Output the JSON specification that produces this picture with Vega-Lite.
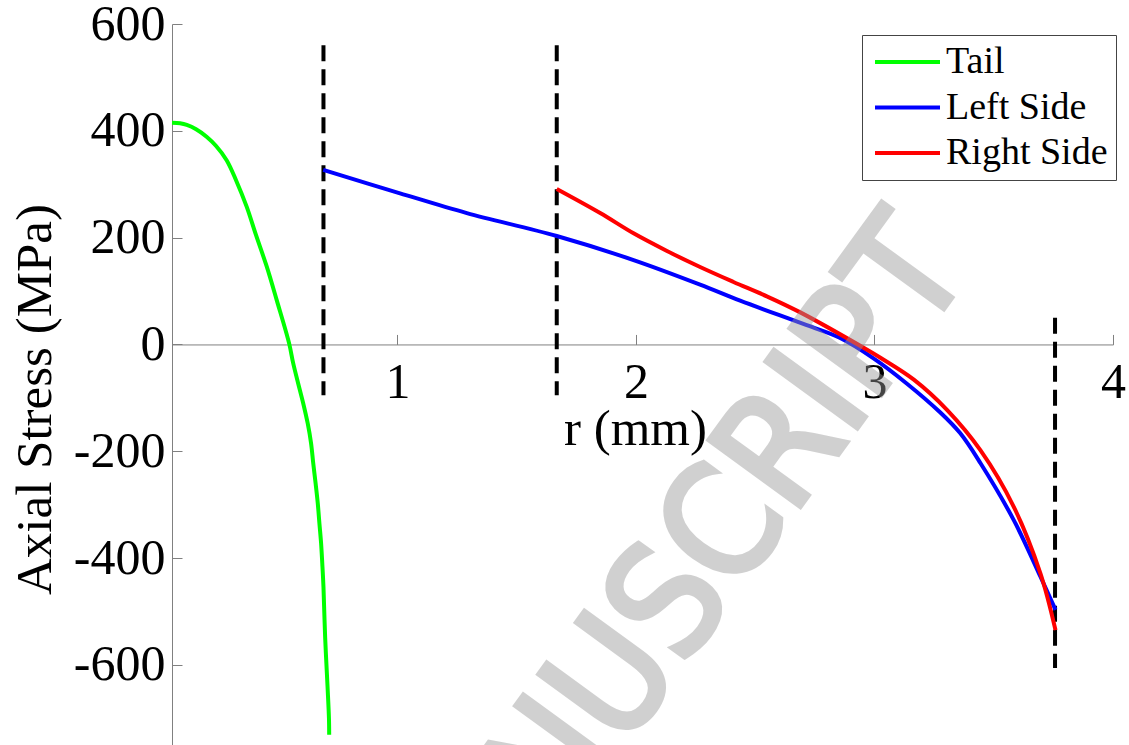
{
  "$schema": "https://vega.github.io/schema/vega-lite/v6.json",
  "width": 941,
  "height": 721,
  "autosize": {"type": "none"},
  "padding": {"left": 172, "top": 24, "right": 16, "bottom": 0},
  "background": "white",
  "config": {"view": {"stroke": null}, "font": "Liberation Serif"},
  "datasets": {
    "curves": [
      {"r": 0.055, "stress": 415, "series": "Tail"},
      {"r": 0.089, "stress": 414, "series": "Tail"},
      {"r": 0.117, "stress": 411, "series": "Tail"},
      {"r": 0.156, "stress": 403, "series": "Tail"},
      {"r": 0.2, "stress": 389, "series": "Tail"},
      {"r": 0.239, "stress": 372, "series": "Tail"},
      {"r": 0.284, "stress": 345, "series": "Tail"},
      {"r": 0.323, "stress": 308, "series": "Tail"},
      {"r": 0.368, "stress": 258, "series": "Tail"},
      {"r": 0.407, "stress": 205, "series": "Tail"},
      {"r": 0.452, "stress": 146, "series": "Tail"},
      {"r": 0.494, "stress": 83, "series": "Tail"},
      {"r": 0.546, "stress": 2, "series": "Tail"},
      {"r": 0.563, "stress": -35, "series": "Tail"},
      {"r": 0.584, "stress": -73, "series": "Tail"},
      {"r": 0.605, "stress": -110, "series": "Tail"},
      {"r": 0.624, "stress": -148, "series": "Tail"},
      {"r": 0.638, "stress": -185, "series": "Tail"},
      {"r": 0.647, "stress": -222, "series": "Tail"},
      {"r": 0.657, "stress": -260, "series": "Tail"},
      {"r": 0.666, "stress": -297, "series": "Tail"},
      {"r": 0.673, "stress": -335, "series": "Tail"},
      {"r": 0.68, "stress": -372, "series": "Tail"},
      {"r": 0.685, "stress": -410, "series": "Tail"},
      {"r": 0.69, "stress": -454, "series": "Tail"},
      {"r": 0.697, "stress": -548, "series": "Tail"},
      {"r": 0.707, "stress": -640, "series": "Tail"},
      {"r": 0.713, "stress": -700, "series": "Tail"},
      {"r": 0.714, "stress": -731, "series": "Tail"},
      {"r": 0.689, "stress": 327, "series": "Left Side"},
      {"r": 1.011, "stress": 283, "series": "Left Side"},
      {"r": 1.291, "stress": 246, "series": "Left Side"},
      {"r": 1.668, "stress": 203, "series": "Left Side"},
      {"r": 1.99, "stress": 158, "series": "Left Side"},
      {"r": 2.269, "stress": 112, "series": "Left Side"},
      {"r": 2.437, "stress": 82, "series": "Left Side"},
      {"r": 2.716, "stress": 36, "series": "Left Side"},
      {"r": 2.856, "stress": 12, "series": "Left Side"},
      {"r": 2.996, "stress": -26, "series": "Left Side"},
      {"r": 3.135, "stress": -73, "series": "Left Side"},
      {"r": 3.275, "stress": -127, "series": "Left Side"},
      {"r": 3.359, "stress": -166, "series": "Left Side"},
      {"r": 3.444, "stress": -222, "series": "Left Side"},
      {"r": 3.584, "stress": -329, "series": "Left Side"},
      {"r": 3.696, "stress": -435, "series": "Left Side"},
      {"r": 3.759, "stress": -497, "series": "Left Side"},
      {"r": 1.668, "stress": 291, "series": "Right Side"},
      {"r": 1.85, "stress": 246, "series": "Right Side"},
      {"r": 1.99, "stress": 208, "series": "Right Side"},
      {"r": 2.13, "stress": 175, "series": "Right Side"},
      {"r": 2.269, "stress": 145, "series": "Right Side"},
      {"r": 2.409, "stress": 117, "series": "Right Side"},
      {"r": 2.549, "stress": 90, "series": "Right Side"},
      {"r": 2.689, "stress": 60, "series": "Right Side"},
      {"r": 2.969, "stress": -10, "series": "Right Side"},
      {"r": 3.025, "stress": -25, "series": "Right Side"},
      {"r": 3.165, "stress": -66, "series": "Right Side"},
      {"r": 3.305, "stress": -123, "series": "Right Side"},
      {"r": 3.444, "stress": -198, "series": "Right Side"},
      {"r": 3.584, "stress": -304, "series": "Right Side"},
      {"r": 3.696, "stress": -429, "series": "Right Side"},
      {"r": 3.759, "stress": -535, "series": "Right Side"}
    ],
    "dashes": [
      {"r": 0.69, "top": 560, "bottom": -95},
      {"r": 1.668, "top": 560, "bottom": -95},
      {"r": 3.757, "top": 50, "bottom": -606}
    ],
    "watermark": [
      {"r": 2.125, "stress": -500, "label": "MANUSCRIPT"}
    ]
  },
  "layer": [
    {
      "data": {"name": "dashes"},
      "mark": {"type": "rule", "color": "black", "strokeWidth": 4, "strokeDash": [16, 8]},
      "encoding": {
        "x": {"field": "r", "type": "quantitative"},
        "y": {"field": "top", "type": "quantitative"},
        "y2": {"field": "bottom"}
      }
    },
    {
      "data": {"name": "curves"},
      "mark": {"type": "line", "strokeWidth": 4, "interpolate": "catmull-rom"},
      "encoding": {
        "x": {
          "field": "r",
          "type": "quantitative",
          "scale": {"domain": [0.055, 4], "nice": false, "zero": false},
          "axis": {
            "title": "r (mm)",
            "values": [1, 2, 3, 4],
            "labelExpr": "toString(datum.value)",
            "offset": -400.56,
            "grid": false,
            "tickSize": -10,
            "tickColor": "#808080",
            "domainColor": "#808080",
            "labelPadding": 23,
            "labelFont": "Liberation Serif",
            "labelFontSize": 50,
            "labelColor": "black",
            "labelFlush": false,
            "titleFont": "Liberation Serif",
            "titleFontSize": 51,
            "titleFontWeight": "normal",
            "titleColor": "black",
            "titleX": 463,
            "titleY": 100.5,
            "titleAlign": "center",
            "titleBaseline": "alphabetic"
          }
        },
        "y": {
          "field": "stress",
          "type": "quantitative",
          "scale": {"domain": [-750, 600], "nice": false, "zero": false},
          "axis": {
            "title": "Axial Stress (MPa)",
            "values": [-600, -400, -200, 0, 200, 400, 600],
            "labelExpr": "toString(datum.value)",
            "grid": false,
            "tickSize": -10,
            "tickColor": "#808080",
            "domainColor": "#808080",
            "labelPadding": 17,
            "labelFont": "Liberation Serif",
            "labelFontSize": 50,
            "labelColor": "black",
            "labelFlush": false,
            "titleFont": "Liberation Serif",
            "titleFontSize": 51,
            "titleFontWeight": "normal",
            "titleColor": "black",
            "titleAngle": -90,
            "titleX": -122,
            "titleY": 375,
            "titleAlign": "center",
            "titleBaseline": "alphabetic"
          }
        },
        "color": {
          "field": "series",
          "type": "nominal",
          "scale": {"domain": ["Tail", "Left Side", "Right Side"], "range": ["#00ff00", "#0000ff", "#ff0000"]},
          "legend": {
            "title": null,
            "orient": "none",
            "legendX": 690,
            "legendY": 11,
            "symbolType": "stroke",
            "symbolSize": 4225,
            "symbolStrokeWidth": 4,
            "symbolOffset": 3,
            "clipHeight": 38,
            "labelFont": "Liberation Serif",
            "labelFontSize": 38,
            "labelColor": "black",
            "labelOffset": 4,
            "labelLimit": 400,
            "padding": 8,
            "rowPadding": 7.5,
            "strokeColor": "#444444",
            "fillColor": "white"
          }
        }
      }
    },
    {
      "data": {"name": "watermark"},
      "mark": {
        "type": "text",
        "font": "'Liberation Sans Narrow', 'DejaVu Sans Condensed', 'Noto Sans Condensed', 'Liberation Sans', sans-serif",
        "fontSize": 155,
        "angle": -54,
        "align": "center",
        "baseline": "middle",
        "color": "#999999",
        "stroke": "#999999",
        "strokeWidth": 5,
        "opacity": 0.45
      },
      "encoding": {
        "x": {"field": "r", "type": "quantitative"},
        "y": {"field": "stress", "type": "quantitative"},
        "text": {"field": "label"}
      }
    }
  ]
}
